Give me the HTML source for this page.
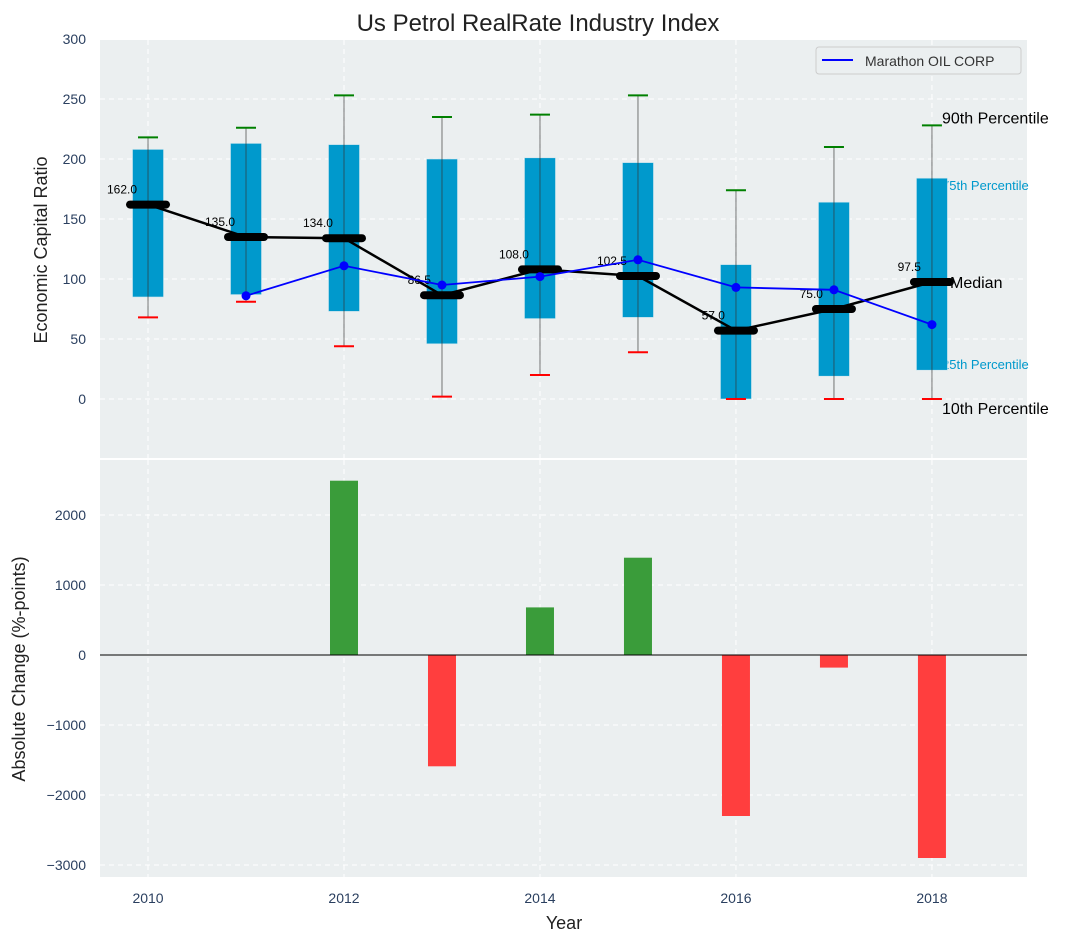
<!DOCTYPE html>
<html><head><meta charset="utf-8"><style>body{margin:0;background:#fff}svg{font-family:"Liberation Sans","DejaVu Sans",sans-serif}</style></head>
<body>
<svg id="c" width="1077" height="942"></svg>
<script>
const years=[2010,2011,2012,2013,2014,2015,2016,2017,2018];
const p10=[68,81,44,2,20,39,0,0,0];
const p25=[85,87,73,46,67,68,0,19,24];
const median=[162,135,134,86.5,108,102.5,57,75,97.5];
const p75=[208,213,212,200,201,197,112,164,184];
const p90=[218,226,253,235,237,253,174,210,228];
const marathon=[null,86,111,95,102,116,93,91,62];
const change=[0,0,2490,-1590,680,1390,-2300,-180,-2900];
const topTicks=[0,50,100,150,200,250,300];
const botTicks=[-3000,-2000,-1000,0,1000,2000];
const xTicks=[2010,2012,2014,2016,2018];
const NS='http://www.w3.org/2000/svg';const svg=document.getElementById('c');
function el(t,a,p){const e=document.createElementNS(NS,t);for(const k in a)e.setAttribute(k,a[k]);(p||svg).appendChild(e);return e;}
const L=100,R=1027;
const x=v=>L+(v-2009.51)/(2018.97-2009.51)*(R-L);
const yT=v=>399-v*1.2;
const yB=v=>655-v*0.07;
let e=el('rect',{x:L,y:40,width:R-L,height:418,fill:'#ebeff0'});
e=el('rect',{x:L,y:460,width:R-L,height:417,fill:'#ebeff0'});
xTicks.forEach(t=>{[[40,458],[460,877]].forEach(r=>{el('line',{x1:x(t),x2:x(t),y1:r[0],y2:r[1],stroke:'#fff','stroke-dasharray':'5,4','stroke-width':1});});
 e=el('text',{x:x(t),y:903,'text-anchor':'middle','font-size':14,fill:'#2a3f5f'});e.textContent=t;});
topTicks.forEach(t=>{el('line',{x1:L,x2:R,y1:yT(t),y2:yT(t),stroke:'#fff','stroke-dasharray':'5,4'});
 e=el('text',{x:86,y:yT(t)+5,'text-anchor':'end','font-size':14,fill:'#2a3f5f'});e.textContent=t;});
botTicks.forEach(t=>{el('line',{x1:L,x2:R,y1:yB(t),y2:yB(t),stroke:'#fff','stroke-dasharray':'5,4'});
 e=el('text',{x:86,y:yB(t)+5,'text-anchor':'end','font-size':14,fill:'#2a3f5f'});e.textContent=(t<0?'\u2212'+(-t):t);});
// annotations (drawn under boxes)
[['90th Percentile',p90[8],16,'#000',2,942],['75th Percentile',p75[8],13,'#0099cc',-12,942],['Median',median[8],16,'#000',-6,950],['25th Percentile',p25[8],13,'#0099cc',1,942],['10th Percentile',p10[8],16,'#000',-15,942]].forEach(a=>{
 e=el('text',{x:a[5],y:yT(a[1])-a[4],'font-size':a[2],fill:a[3]});e.textContent=a[0];});
years.forEach((yr,i)=>{const cx=x(yr);
 e=el('rect',{x:cx-15.5,y:yT(p75[i]),width:31,height:yT(p25[i])-yT(p75[i]),fill:'#0099cc',stroke:'#cde6ee','stroke-width':0.6});
 e=el('line',{x1:cx,x2:cx,y1:yT(p90[i]),y2:yT(p10[i]),stroke:'#333','stroke-opacity':0.55,'stroke-width':1.2});
 e=el('line',{x1:cx-10,x2:cx+10,y1:yT(p90[i]),y2:yT(p90[i]),stroke:'green','stroke-width':2});
 e=el('line',{x1:cx-10,x2:cx+10,y1:yT(p10[i]),y2:yT(p10[i]),stroke:'red','stroke-width':2});
});
e=el('polyline',{points:years.map((yr,i)=>x(yr)+','+yT(median[i])).join(' '),fill:'none',stroke:'#000','stroke-width':2.5});
years.forEach((yr,i)=>{const cx=x(yr),cy=yT(median[i]);
 e=el('line',{x1:cx-18,x2:cx+18,y1:cy,y2:cy,stroke:'#000','stroke-width':8,'stroke-linecap':'round'});
 e=el('text',{x:cx-11,y:cy-11,'text-anchor':'end','font-size':12,fill:'#000'});e.textContent=median[i].toFixed(1);});
const mp=years.map((yr,i)=>marathon[i]==null?null:[x(yr),yT(marathon[i])]).filter(p=>p);
e=el('polyline',{points:mp.map(p=>p.join(',')).join(' '),fill:'none',stroke:'blue','stroke-width':1.8});
mp.forEach(p=>{e=el('circle',{cx:p[0],cy:p[1],r:4.5,fill:'blue'});});
e=el('rect',{x:816,y:47,width:205,height:27,rx:3,fill:'#ebeff0',stroke:'#ccc'});
el('line',{x1:822,x2:853,y1:60,y2:60,stroke:'blue','stroke-width':2});
e=el('text',{x:865,y:66,'font-size':14,fill:'#333'});e.textContent='Marathon OIL CORP';
years.forEach((yr,i)=>{const v=change[i];if(!v)return;
 e=el('rect',{x:x(yr)-14,y:Math.min(yB(v),yB(0)),width:28,height:Math.abs(yB(v)-yB(0)),fill:v>0?'#3a9c3a':'#ff3e3e'});});
el('line',{x1:L,x2:R,y1:yB(0),y2:yB(0),stroke:'#000','stroke-width':1});
e=el('text',{x:538,y:31,'text-anchor':'middle','font-size':24,fill:'#222'});e.textContent='Us Petrol RealRate Industry Index';
e=el('text',{x:564,y:929,'text-anchor':'middle','font-size':18,fill:'#222'});e.textContent='Year';
e=el('text',{x:47,y:250,'text-anchor':'middle','font-size':18,fill:'#222',transform:'rotate(-90 47 250)'});e.textContent='Economic Capital Ratio';
e=el('text',{x:25,y:669,'text-anchor':'middle','font-size':18,fill:'#222',transform:'rotate(-90 25 669)'});e.textContent='Absolute Change (%-points)';
</script>
</body></html>
